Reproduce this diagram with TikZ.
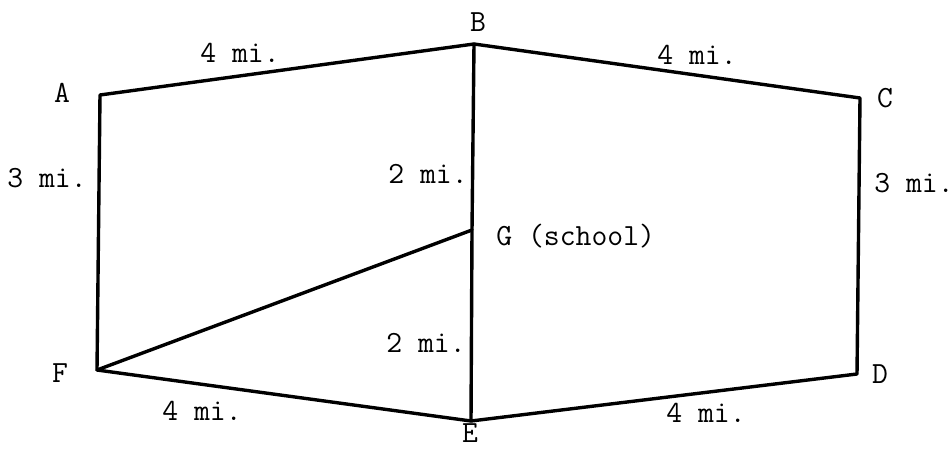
\documentclass[tikz,border=0pt]{standalone}
\usepackage{fontspec}
\usetikzlibrary{positioning}

\begin{document}
\begin{tikzpicture}[x=0.5pt,y=-0.5pt,
  road/.style={line width=1.7pt,line join=round,line cap=round},
  lbl/.style={font=\ttfamily\fontsize{15.4}{18}\selectfont,inner sep=0pt,anchor=base},
]
\useasboundingbox (0,0) rectangle (952,449);

% towns
\coordinate (A) at (100,95);
\coordinate (B) at (474,44);
\coordinate (C) at (860,98);
\coordinate (D) at (857,374);
\coordinate (E) at (471,421);
\coordinate (F) at (97,370);
\coordinate (G) at (472,230);

\draw[road] (A) -- (B) -- (C) -- (D) -- (E) -- (F) -- cycle;
\draw[road] (B) -- (G) -- (E);
\draw[road] (F) -- (G);

% town names
\node[lbl] (labA) at (62,103) {A};
\node[lbl] (labB) at (478,32) {B};
\node[lbl] (labC) at (885,107) {C};
\node[lbl] (labD) at (880,383) {D};
\node[lbl] (labE) at (470,442) {E};
\node[lbl] (labF) at (60,382) {F};
\node[lbl,anchor=base west] (labG) at (496,245) {G (school)};

% distances
\node[lbl] (dAB) at (240,63) {4 mi.};
\node[lbl] (dBC) at (697,65) {4 mi.};
\node[lbl] (dAF) at (47,187) {3 mi.};
\node[lbl] (dCD) at (914,192) {3 mi.};
\node[lbl] (dBG) at (428,183) {2 mi.};
\node[lbl] (dGE) at (426,352) {2 mi.};
\node[lbl] (dFE) at (202,420) {4 mi.};
\node[lbl] (dED) at (706,422) {4 mi.};
\end{tikzpicture}
\end{document}
